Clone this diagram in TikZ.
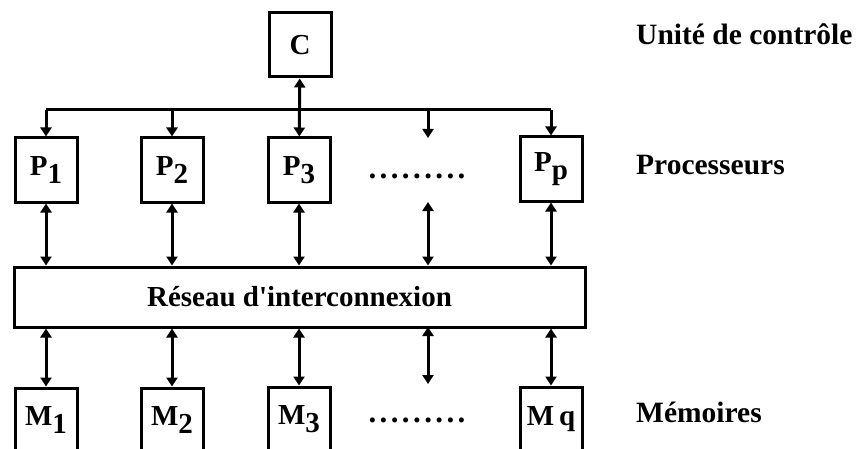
\documentclass[tikz,border=0pt]{standalone}
\usepackage{fontspec}
\setmainfont{Liberation Serif}
\usepackage{tikz}
\usetikzlibrary{positioning, arrows.meta}
\tikzstyle{unitBox}=[draw, line width=3pt, minimum width=62pt, minimum height=64pt, inner sep=0pt, font=\bfseries\fontsize{29}{32}\selectfont]
\tikzstyle{sideLabel}=[anchor=base west, inner sep=0pt, font=\bfseries\fontsize{29.5}{34}\selectfont]
\tikzstyle{busLink}=[-{Triangle[width=11pt,length=9pt]}, line width=3pt]
\tikzstyle{duplexLink}=[{Triangle[width=11pt,length=9pt]}-{Triangle[width=11pt,length=9pt]}, line width=3pt]
\newcommand{\lowidx}[1]{\raisebox{-0.3em}{#1}}
\newcommand{\pointrow}{.\kern3.4pt.\kern3.4pt.\kern3.4pt.\kern3.4pt.\kern3.4pt.\kern3.4pt.\kern3.4pt.\kern3.4pt.}

\begin{document}
\begin{tikzpicture}[x=1pt, y=-1pt]

    \useasboundingbox (0,0) rectangle (861,449);

    % nodes

    \node[unitBox] (C) at (300,45) {C};

    \node[unitBox] (P1) at (46,170) {P\lowidx{1}};
    \node[unitBox] (P2) at (172,170) {P\lowidx{2}};
    \node[unitBox] (P3) at (299,170) {P\lowidx{3}};
    \node[unitBox] (Pp) at (551,169) {P\lowidx{p}};

    \node[unitBox, minimum width=571pt, minimum height=60pt] (net) at (299.5,297) {R\'eseau d\textquotesingle interconnexion};

    \node[unitBox] (M1) at (46,420) {M\lowidx{1}};
    \node[unitBox] (M2) at (172,420) {M\lowidx{2}};
    \node[unitBox] (M3) at (299,419) {M\lowidx{3}};
    \node[unitBox] (Mq) at (551,419) {M\,q};

    \node[inner sep=0pt, font=\bfseries\fontsize{31}{34}\selectfont] (dotsP) at (417,176) {\pointrow};
    \node[inner sep=0pt, font=\bfseries\fontsize{31}{34}\selectfont] (dotsM) at (417,420) {\pointrow};

    \coordinate (busL) at (46,110);
    \coordinate (busR) at (551,110);
    \coordinate (d1) at (428,110);
    \coordinate (d2) at (428,138);
    \coordinate (d3) at (428,202);
    \coordinate (d4) at (428,327);
    \coordinate (d5) at (428,384);

    \node[sideLabel] (unit) at (636,45) {Unit\'e de contr\^ole};
    \node[sideLabel] (proc) at (636,175) {Processeurs};
    \node[sideLabel] (mem) at (636,422) {M\'emoires};

    % transition

    \draw[line width=3pt] (busL) -- (busR);
    \draw[duplexLink] (C) -- (P3);
    \draw[busLink] (busL) -- (P1);
    \draw[busLink] (P2 |- busL) -- (P2);
    \draw[busLink] (d1) -- (d2);
    \draw[busLink] (busR) -- (Pp);

    \draw[duplexLink] (P1) -- (P1 |- net.north);
    \draw[duplexLink] (P2) -- (P2 |- net.north);
    \draw[duplexLink] (P3) -- (P3 |- net.north);
    \draw[duplexLink] (d3) -- (d3 |- net.north);
    \draw[duplexLink] (Pp) -- (Pp |- net.north);

    \draw[duplexLink] (M1 |- net.south) -- (M1);
    \draw[duplexLink] (M2 |- net.south) -- (M2);
    \draw[duplexLink] (M3 |- net.south) -- (M3);
    \draw[duplexLink] (d4) -- (d5);
    \draw[duplexLink] (Mq |- net.south) -- (Mq);

\end{tikzpicture}
\end{document}
